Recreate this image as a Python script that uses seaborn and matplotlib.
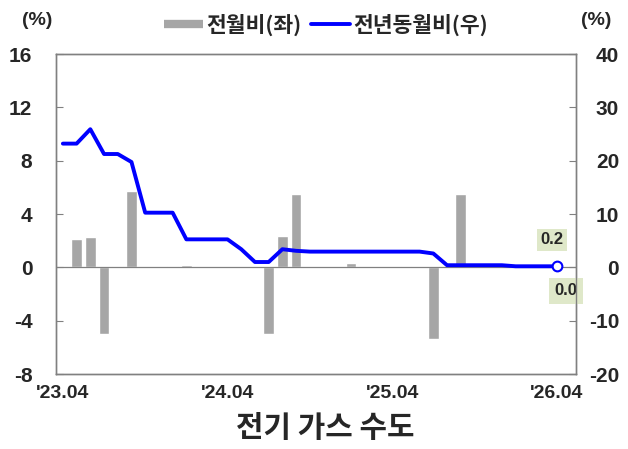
import numpy as np
import pandas as pd
import matplotlib
matplotlib.use("Agg")
import matplotlib.pyplot as plt
import seaborn as sns
from matplotlib.lines import Line2D

# monthly data, '23.04 ~ '26.04 (37 months)
months = pd.period_range("2023-04", "2026-04", freq="M").strftime("'%y.%m").tolist()

# 전월비 (left axis, %)
mom = [0.0, 2.15, 2.28, -5.0, 0.1, 5.75, 0.0, 0.0, 0.07, 0.17,
       0.0, 0.0, 0.0, 0.0, 0.0, -5.0, 2.38, 5.5, 0.0, 0.0,
       0.0, 0.33, 0.0, 0.0, 0.0, 0.07, 0.0, -5.35, 0.0, 5.5,
       0.0, 0.0, 0.0, 0.0, 0.0, 0.0, 0.0]

# 전년동월비 (right axis, %)
yoy = [23.2, 23.2, 25.9, 21.25, 21.25, 19.75, 10.25, 10.25, 10.25, 5.25,
       5.25, 5.25, 5.25, 3.4, 1.0, 1.0, 3.4, 3.1, 2.95, 2.95,
       2.95, 2.95, 2.95, 2.95, 2.95, 2.95, 2.95, 2.6, 0.4, 0.4,
       0.4, 0.4, 0.4, 0.2, 0.2, 0.2, 0.2]

# x tick labels every 12 months
xtick_pos = [0, 12, 24, 36]

df = pd.DataFrame({"month": months, "pos": np.arange(len(months)), "mom": mom, "yoy": yoy})

sns.set_style("white")
plt.rcParams["font.family"] = ["Noto Sans CJK KR", "DejaVu Sans"]
plt.rcParams["axes.unicode_minus"] = False

NUM_FONT = ["Liberation Sans", "DejaVu Sans"]
BAR = "#a6a6a6"
LINE = "#0000ff"
LABEL_BG = "#dfe8c9"
GRID = "#808080"

fig = plt.figure(figsize=(6.28, 4.49), dpi=100)
ax = fig.add_axes([0.0892, 0.167, 0.828, 0.7127])

sns.barplot(data=df, x="pos", y="mom", color=BAR, width=0.78, ax=ax,
            saturation=1, native_scale=True)
ax.axhline(0, color=GRID, lw=0.9, zorder=1)

ax2 = ax.twinx()
sns.lineplot(data=df, x="pos", y="yoy", color=LINE, lw=2.8, ax=ax2)
ax2.plot(df["pos"].iloc[-1], df["yoy"].iloc[-1], "o", ms=7, mfc="white",
         mec=LINE, mew=1.5, zorder=5)

ax.set_xlim(-0.5, len(months) + 0.4)
ax.set_ylim(-8, 16)
ax.set_yticks(range(-8, 17, 4))
ax2.set_ylim(-20, 40)
ax2.set_yticks(range(-20, 41, 10))

ax.set_xticks(xtick_pos)
ax.set_xticklabels([months[i] for i in xtick_pos])
ax.set_xlabel("")
ax.set_ylabel("")
ax2.set_ylabel("")

for s in list(ax.spines.values()) + list(ax2.spines.values()):
    s.set_color(GRID)
    s.set_linewidth(1.0)

ax.tick_params(axis="y", direction="in", length=5, color=GRID, pad=17,
               labelsize=15)
ax2.tick_params(axis="y", direction="in", length=5, color=GRID, pad=31,
                labelsize=15)
ax.tick_params(axis="x", length=0, pad=8, labelsize=14)
for t in ax.get_yticklabels() + ax.get_xticklabels():
    t.set_fontweight("bold")
    t.set_family(NUM_FONT)
for t in ax2.get_yticklabels():
    t.set_fontweight("bold")
    t.set_family(NUM_FONT)
    t.set_horizontalalignment("right")

# data labels for the last month
last = df.iloc[-1]
ax2.annotate(f"{last['yoy']:.1f}", (last["pos"], last["yoy"]), xytext=(-3.5, 19),
             textcoords="offset points", ha="center", va="center",
             fontsize=12, fontweight="bold", family=NUM_FONT,
             bbox=dict(boxstyle="square,pad=0.2", fc=LABEL_BG, ec="none"))
ax.annotate(f"{last['mom']:.1f}", (last["pos"], last["mom"]), xytext=(6.5, -17),
            textcoords="offset points", ha="center", va="center",
            fontsize=12, fontweight="bold", family=NUM_FONT,
            bbox=dict(boxstyle="square,pad=0.35", fc=LABEL_BG, ec="none"))

fig.text(0.059, 0.955, "(%)", ha="center", va="center", fontsize=14,
         fontweight="bold", family=NUM_FONT)
fig.text(0.949, 0.955, "(%)", ha="center", va="center", fontsize=14,
         fontweight="bold", family=NUM_FONT)

handles = [Line2D([0], [0], color=BAR, lw=6, solid_capstyle="butt"),
           Line2D([0], [0], color=LINE, lw=2.8)]
fig.legend(handles, ["전월비(좌)", "전년동월비(우)"], loc="center",
           bbox_to_anchor=(0.519, 0.944), ncol=2, frameon=False,
           prop={"weight": "bold", "size": 15.5}, handlelength=1.8,
           handletextpad=0.15, columnspacing=0.45)

fig.text(0.518, 0.047, "전기 가스 수도", ha="center", va="center",
         fontsize=21.5, fontweight="black")

fig.savefig("out.png", dpi=100)
